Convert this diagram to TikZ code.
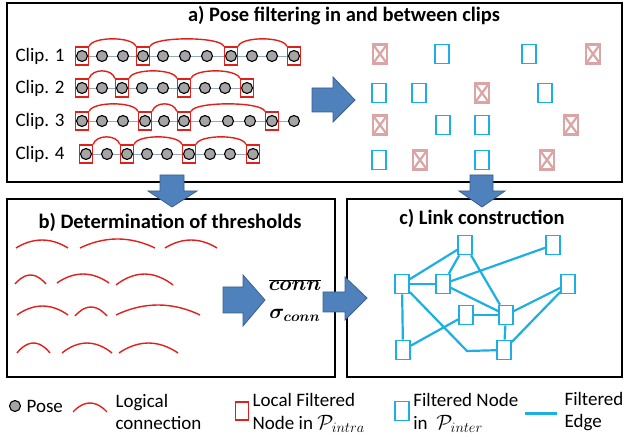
\documentclass[tikz,border=0pt]{standalone}
\usepackage{fontspec}
\usepackage{bm}
\setmainfont{Carlito}
\usetikzlibrary{shapes.geometric,backgrounds}

\definecolor{PoseFill}{HTML}{A5A5A5}
\definecolor{ChainLine}{HTML}{8FA8C8}
\definecolor{LocalRed}{HTML}{E0201B}
\definecolor{InterBlue}{HTML}{1BAFE3}
\definecolor{DropPink}{HTML}{DCA5A5}
\definecolor{ArrowFill}{HTML}{4F81BD}
\definecolor{ArrowLine}{HTML}{3A5F8C}

\tikzstyle{pose}=[ellipse, draw=black, fill=PoseFill, line width=1.1pt, minimum width=11pt, minimum height=11pt, inner sep=0pt]
\tikzstyle{local-box}=[rectangle, draw=LocalRed, line width=1.3pt, minimum width=13pt, minimum height=18pt, inner sep=0pt]
\tikzstyle{inter-box}=[rectangle, draw=InterBlue, line width=1.6pt, minimum width=14pt, minimum height=19pt, inner sep=0pt, fill=white]
\tikzstyle{drop-box}=[rectangle, draw=DropPink, line width=2.2pt, minimum width=14pt, minimum height=19pt, inner sep=0pt,
  path picture={\draw[DropPink, line width=2.2pt] (path picture bounding box.north west) -- (path picture bounding box.south east)
    (path picture bounding box.north east) -- (path picture bounding box.south west);}]
\tikzstyle{frame}=[draw=black, line width=1.5pt]
\tikzstyle{block-arrow}=[fill=ArrowFill, draw=ArrowLine, line width=0.8pt, line join=miter]
\tikzstyle{logic-arc}=[draw=LocalRed, line width=1.4pt]
\tikzstyle{chain}=[draw=ChainLine, line width=0.9pt]
\tikzstyle{link}=[draw=InterBlue, line width=2.2pt]
\tikzstyle{title}=[font=\fontsize{20.5}{24}\selectfont\bfseries]
\tikzstyle{legend-text}=[font=\fontsize{19}{22}\selectfont, align=left]
\newcommand{\bigmath}[1]{{\fontsize{21.5}{22}\selectfont$\smash{#1}$}}

\begin{document}
\begin{tikzpicture}[x=1pt, y=-1pt]
      \useasboundingbox (0,0) rectangle (624,438);

      % frames
      \draw[frame] (7,3) rectangle (622,182);
      \draw[frame] (7,199) rectangle (335,377);
      \draw[frame] (347,199) rectangle (622,377);

      \node[title] (title-a) at (344,16) {a) Pose filtering in and between clips};
      \node[title] (title-b) at (170,222) {b) Determination of thresholds};
      \node[title] (title-c) at (482,218) {c) Link construction};

      % clips
      \node[legend-text, anchor=west] (clip-1) at (12,56) {Clip. 1};
      \node[legend-text, anchor=west] (clip-2) at (12,88) {Clip. 2};
      \node[legend-text, anchor=west] (clip-3) at (12,121) {Clip. 3};
      \node[legend-text, anchor=west] (clip-4) at (12,154) {Clip. 4};

      \foreach \x [count=\i from 0] in {82,102,123,143,163,185,207,231,252,272,294}
        \node[pose] (p1-\i) at (\x,56) {};
      \foreach \x [count=\i from 0] in {82,102,122,142,163,184,205,225,247}
        \node[pose] (p2-\i) at (\x,88) {};
      \foreach \x [count=\i from 0] in {82,102,123,145,164,184,205,228,250,272,294}
        \node[pose] (p3-\i) at (\x,121) {};
      \foreach \x [count=\i from 0] in {86,107,127,147,167,189,210,230,253}
        \node[pose] (p4-\i) at (\x,154) {};

      \begin{scope}[on background layer]
        \draw[chain] (p1-0) -- (p1-10);
        \draw[chain] (p2-0) -- (p2-8);
        \draw[chain] (p3-0) -- (p3-10);
        \draw[chain] (p4-0) -- (p4-8);
      \end{scope}

      \foreach \i in {0,3,7,10} \node[local-box] (r1-\i) at (p1-\i) {};
      \foreach \i in {0,2,5,8} \node[local-box] (r2-\i) at (p2-\i) {};
      \foreach \i in {0,3,5,9} \node[local-box] (r3-\i) at (p3-\i) {};
      \foreach \i in {0,2,5,8} \node[local-box] (r4-\i) at (p4-\i) {};

      \foreach \a/\b in {0/3,3/7,7/10}
        \draw[logic-arc] (r1-\a.north east) .. controls +(3,-10) and +(-3,-10) .. (r1-\b.north west);
      \foreach \a/\b in {0/2,2/5,5/8}
        \draw[logic-arc] (r2-\a.north east) .. controls +(3,-10) and +(-3,-10) .. (r2-\b.north west);
      \foreach \a/\b in {0/3,3/5,5/9}
        \draw[logic-arc] (r3-\a.north east) .. controls +(3,-10) and +(-3,-10) .. (r3-\b.north west);
      \foreach \a/\b in {0/2,2/5,5/8}
        \draw[logic-arc] (r4-\a.north east) .. controls +(3,-10) and +(-3,-10) .. (r4-\b.north west);

      % kept and dropped nodes
      \foreach \x/\y [count=\i] in {380/54,593/54,482/93,380/125,571/125,420/160,547/160}
        \node[drop-box] (drop-\i) at (\x,\y) {};
      \foreach \x/\y [count=\i] in {442/54,529/54,379/93,419/93,545/93,443/125,482/125,379/160,482/160}
        \node[inter-box] (keep-\i) at (\x,\y) {};

      % thresholds
      \foreach \a/\b/\e/\p in {16/68/248/240, 80/155/248/239, 165/217/248/240,
                               15/46/284/275, 57/109/283/274, 116/173/285/274,
                               17/68/315/306, 75/107/316/307, 116/200/315/305,
                               17/50/353/343, 62/112/353/343, 119/178/353/343}
        \draw[logic-arc] (\a,\e) parabola bend ({(\a+\b)/2},\p) (\b,\e);

      \node[font=\boldmath\fontsize{21}{24}\selectfont] (mean) at (295,285) {$\overline{conn}$};
      \node[font=\boldmath\fontsize{21}{24}\selectfont] (sigma) at (295,315) {$\sigma_{conn}$};

      % link graph
      \node[inter-box] (g1) at (465,245) {};
      \node[inter-box] (g2) at (553,245) {};
      \node[inter-box] (g3) at (402,284) {};
      \node[inter-box] (g4) at (443,284) {};
      \node[inter-box] (g5) at (568,284) {};
      \node[inter-box] (g6) at (466,315) {};
      \node[inter-box] (g7) at (506,315) {};
      \node[inter-box] (g8) at (403,350) {};
      \node[inter-box] (g9) at (504,350) {};
      \coordinate (gc) at (467,351);
      \foreach \a/\b in {g3/g1, g4/g1, g1/g7, g3/g4, g4/g2, g4/g7, g3/g8, g8/g6, g6/g7, g7/g9, g7/g5, g9/g5}
        \draw[link] (\a) -- (\b);
      \draw[link] (g3) -- (gc) -- (g9);

      % block arrows
      \draw[block-arrow] (312,88) -- (333,88) -- (333,77) -- (355,100) -- (333,122) -- (333,112) -- (312,112) -- cycle;
      \draw[block-arrow] (160,175) -- (184,175) -- (184,191) -- (197,191) -- (172,207) -- (148,191) -- (160,191) -- cycle;
      \draw[block-arrow] (470,175) -- (493,175) -- (493,191) -- (505,191) -- (482,207) -- (459,191) -- (470,191) -- cycle;
      \draw[block-arrow] (223,287) -- (243,287) -- (243,275) -- (265,300) -- (243,326) -- (243,313) -- (223,313) -- cycle;
      \draw[block-arrow] (323,292) -- (345,292) -- (345,277) -- (367,298) -- (345,320) -- (345,312) -- (323,312) -- cycle;

      % legend
      \node[pose, label={[legend-text, label distance=2pt]right:Pose}] (legend-pose) at (15,406) {};
      \draw[logic-arc] (73,412) parabola bend (90,403) (107,412);
      \node[legend-text, anchor=west] (legend-conn) at (112,412) {Logical\\connection};
      \node[local-box, label={[legend-text]right:{Local Filtered\\[1pt]Node in \bigmath{\mathcal{P}_{intra}}}}] (legend-local) at (242,411) {};
      \node[inter-box, label={[legend-text]right:{Filtered Node\\[1pt]in\ \ \bigmath{\mathcal{P}_{inter}}}}] (legend-inter) at (402,411) {};
      \coordinate (legend-e1) at (525,413);
      \coordinate (legend-e2) at (557,413);
      \draw[link, line width=3pt] (legend-e1) -- (legend-e2);
      \node[legend-text, anchor=west] (legend-edge) at (561,412) {Filtered\\Edge};
    \end{tikzpicture}
\end{document}
